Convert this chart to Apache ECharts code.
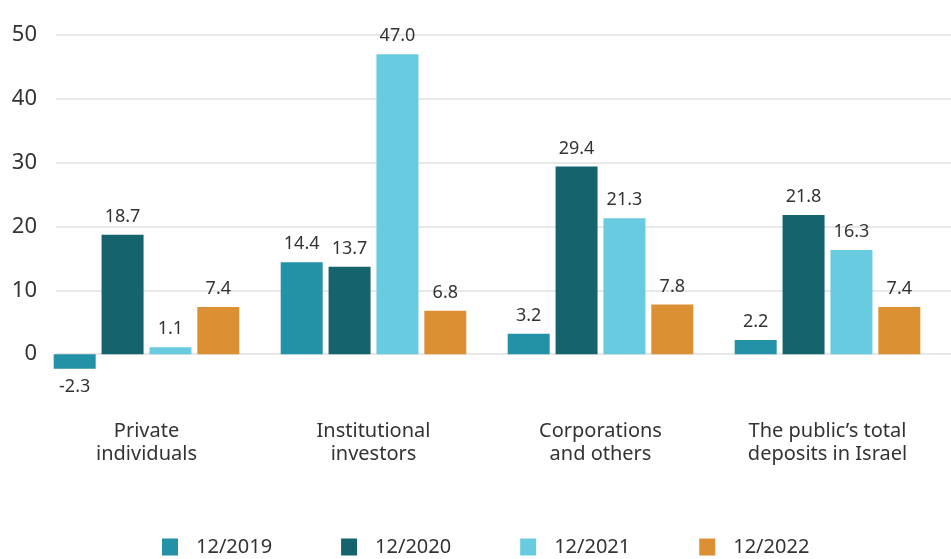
<!DOCTYPE html>
<html>
<head>
<meta charset="utf-8">
<script src="https://cdn.jsdelivr.net/npm/echarts@6/dist/echarts.min.js"></script>
<style>
  html, body { margin: 0; padding: 0; background: #fff; }
  #chart { width: 951px; height: 559px; }
</style>
</head>
<body>
<div id="chart"></div>
<script>
var categories = ['Private\nindividuals', 'Institutional\ninvestors', 'Corporations\nand others', 'The public\u2019s total\ndeposits in Israel'];
var seriesNames = ['12/2019', '12/2020', '12/2021', '12/2022'];
var values2019 = [-2.3, 14.4, 3.2, 2.2];
var values2020 = [18.7, 13.7, 29.4, 21.8];
var values2021 = [1.1, 47.0, 21.3, 16.3];
var values2022 = [7.4, 6.8, 7.8, 7.4];
var colors = ['#2391a6', '#15636c', '#69cbe0', '#db9033'];

var font = 'Noto Sans';

function makeSeries(name, vals, color) {
    return {
        name: name,
        type: 'bar',
        xAxisIndex: 1,
        yAxisIndex: 1,
        barWidth: 42,
        barGap: '14%',
        itemStyle: { color: color },
        label: {
            show: true,
            position: 'top',
            distance: 9,
            fontFamily: font,
            fontSize: 18,
            color: '#333',
            formatter: function(p) { return p.value.toFixed(1); }
        },
        data: vals.map(function(v) {
            if (v < 0) return { value: v, label: { position: 'bottom' } };
            return v;
        })
    };
}

var chart = echarts.init(document.getElementById('chart'));
var option = {
    animation: false,
    grid: [
        { left: 56, right: 0, top: 35, height: 383 },   // gridlines + y labels
        { left: 33, width: 908, top: 35, height: 383 }  // bars
    ],
    legend: {
        data: seriesNames,
        left: 157,
        top: 532,
        icon: 'rect',
        itemWidth: 16,
        itemHeight: 17,
        itemGap: 69,
        textStyle: {
            fontFamily: font,
            fontSize: 20,
            color: '#333',
            padding: [0, 0, 0, 13]
        }
    },
    xAxis: [{
            type: 'category',
            gridIndex: 0,
            data: categories,
            show: false
        },
        {
            type: 'category',
            gridIndex: 1,
            data: categories,
            axisLine: { show: false },
            axisTick: { show: false },
            axisLabel: {
                margin: 2,
                fontFamily: font,
                fontSize: 20,
                lineHeight: 23,
                color: '#333',
                interval: 0
            }
        }
    ],
    yAxis: [{
            type: 'value',
            gridIndex: 0,
            min: -10,
            max: 50,
            interval: 10,
            axisLine: { show: false },
            axisTick: { show: false },
            axisLabel: {
                showMinLabel: false,
                margin: 19,
                fontFamily: font,
                fontSize: 22,
                color: '#333'
            },
            splitLine: {
                showMinLine: false,
                lineStyle: { color: '#e0e0e0', width: 1.5 }
            }
        },
        {
            type: 'value',
            gridIndex: 1,
            min: -10,
            max: 50,
            interval: 10,
            show: false,
            splitLine: { show: false }
        }
    ],
    series: [
        makeSeries(seriesNames[0], values2019, colors[0]),
        makeSeries(seriesNames[1], values2020, colors[1]),
        makeSeries(seriesNames[2], values2021, colors[2]),
        makeSeries(seriesNames[3], values2022, colors[3])
    ]
};
chart.setOption(option);
</script>
</body>
</html>
